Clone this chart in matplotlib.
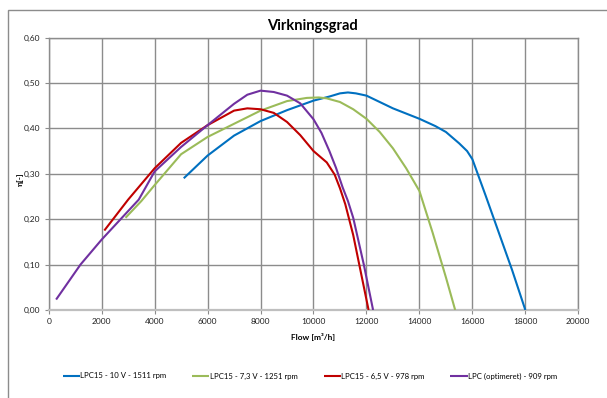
import matplotlib
matplotlib.use("Agg")
import matplotlib.pyplot as plt
from matplotlib.patches import Rectangle
from matplotlib.ticker import FuncFormatter

plt.rcParams['font.family'] = ['Lato', 'DejaVu Sans']

# Efficiency curves: flow [m3/h] vs. efficiency [-]
blue_label = "LPC15 - 10 V - 1511 rpm"
blue_flow = [5100, 6000, 7000, 8000, 9000, 10000, 10600, 11000, 11300, 11600, 12000, 12500, 13000,
             14000, 14600, 15000, 15500, 15800, 16000, 16500, 17000, 17500, 18000]
blue_eff = [0.290, 0.340, 0.384, 0.416, 0.440, 0.461, 0.470, 0.477, 0.479, 0.477, 0.472, 0.458, 0.444,
            0.421, 0.405, 0.392, 0.367, 0.350, 0.332, 0.252, 0.170, 0.088, 0.000]

green_label = "LPC15 - 7,3 V - 1251 rpm"
green_flow = [2900, 3500, 4000, 5000, 6000, 7000, 8000, 9000, 9750, 10200, 10500,
              11000, 11500, 12000, 12500, 13000, 13500, 14000, 14500, 15000, 15350]
green_eff = [0.203, 0.240, 0.275, 0.343, 0.381, 0.410, 0.439, 0.460, 0.467, 0.468, 0.466,
             0.458, 0.442, 0.421, 0.392, 0.356, 0.312, 0.262, 0.170, 0.072, 0.000]

red_label = "LPC15 - 6,5 V - 978 rpm"
red_flow = [2100, 3000, 4000, 5000, 6000, 7000, 7500, 8000, 8500, 9000,
            9500, 10000, 10500, 10800, 11000, 11200, 11500, 12080]
red_eff = [0.175, 0.243, 0.312, 0.368, 0.407, 0.439, 0.444, 0.442, 0.434, 0.414,
           0.385, 0.350, 0.325, 0.298, 0.268, 0.233, 0.165, 0.000]

purple_label = "LPC (optimeret) - 909 rpm"
purple_flow = [280, 1200, 2000, 2700, 3400, 4000, 5000, 6000, 7000, 7500,
               8000, 8500, 9000, 9500, 10000, 10300, 10600, 10850, 11100, 11300, 11500, 11900, 12250]
purple_eff = [0.023, 0.100, 0.155, 0.199, 0.243, 0.305, 0.359, 0.407, 0.454, 0.474,
              0.483, 0.480, 0.472, 0.455, 0.420, 0.390, 0.350, 0.313, 0.270, 0.240, 0.203, 0.100, 0.000]

x_ticks = [0, 2000, 4000, 6000, 8000, 10000, 12000, 14000, 16000, 18000, 20000]
y_ticks = [0.0, 0.1, 0.2, 0.3, 0.4, 0.5, 0.6]

W, H = 607, 398
fig = plt.figure(figsize=(W / 100, H / 100), dpi=100)

# outer chart frame
fig.patches.append(Rectangle((8 / W, -0.1), 1.2, 1 - 10.5 / H + 0.1,
                             transform=fig.transFigure, fill=False,
                             edgecolor="#8c8c8c", linewidth=1.0))

ax = fig.add_axes([48.7 / W, 1 - 310 / H, (578.3 - 48.7) / W, (310 - 37.5) / H])

series = [
    (blue_flow, blue_eff, blue_label, "#0070C0"),
    (green_flow, green_eff, green_label, "#9BBB59"),
    (red_flow, red_eff, red_label, "#C00000"),
    (purple_flow, purple_eff, purple_label, "#7030A0"),
]
for fx, fy, lab, col in series:
    ax.plot(fx, fy, color=col, linewidth=1.5, label=lab, solid_capstyle="butt",
            solid_joinstyle="round", zorder=3)

ax.set_xlim(0, 20000)
ax.set_ylim(0, 0.6)
ax.set_xticks(x_ticks)
ax.set_yticks(y_ticks)
ax.yaxis.set_major_formatter(FuncFormatter(lambda v, p: f"{v:.2f}".replace(".", ",")))
ax.grid(True, color="#8c8c8c", linewidth=1.0, zorder=1)
ax.set_axisbelow(True)
for side in ["top", "right", "left"]:
    ax.spines[side].set_color("#8c8c8c")
    ax.spines[side].set_linewidth(1.0)
ax.spines["bottom"].set_color("#bfbfbf")
ax.spines["bottom"].set_linewidth(1.6)
ax.tick_params(axis="both", length=3, width=0.8, color="#8c8c8c",
               labelsize=6.0, labelcolor="#222222", pad=3)

ax.set_xlabel("Flow [m³/h]", fontsize=6.0, fontweight="bold")
ax.set_ylabel("η[-]", fontsize=6.0, fontweight="bold")
ax.xaxis.set_label_coords(0.499, -0.084)
ax.yaxis.set_label_coords(-0.046, 0.48)

fig.text(312 / W, 1 - 26 / H, "Virkningsgrad", ha="center", va="center",
         fontsize=10.5, fontweight="bold")

fig.legend(loc="center", bbox_to_anchor=(310 / W, 1 - 376 / H), ncol=4,
           frameon=False, fontsize=5.6, handlelength=2.2, handletextpad=0.1,
           columnspacing=3.3)

fig.savefig("out.png", dpi=100)
